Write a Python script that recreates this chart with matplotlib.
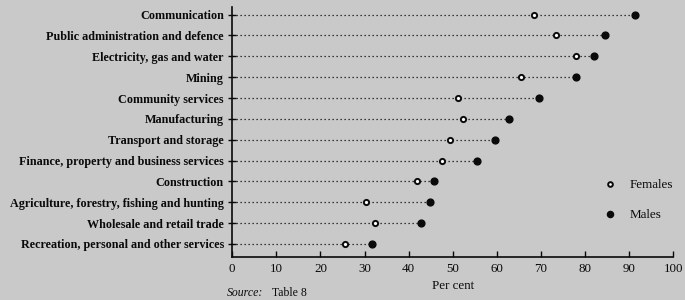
#Dot chart: labour force participation by industry, females vs males
import matplotlib.pyplot as plt

industries = ['Communication', 'Public administration and defence', 'Electricity, gas and water',
              'Mining', 'Community services', 'Manufacturing', 'Transport and storage',
              'Finance, property and business services', 'Construction',
              'Agriculture, forestry, fishing and hunting', 'Wholesale and retail trade',
              'Recreation, personal and other services']
females = [68.3, 73.5, 78.0, 65.5, 51.2, 52.4, 49.4, 47.6, 42.0, 30.4, 32.4, 25.5]
males = [91.3, 84.5, 82.0, 78.0, 69.6, 62.8, 59.6, 55.6, 45.8, 44.9, 42.9, 31.7]
xticks = [0, 10, 20, 30, 40, 50, 60, 70, 80, 90, 100]

bg = '#c9c9c9'
ink = '#0a0a0a'
plt.rcParams['font.family'] = ['Liberation Serif', 'DejaVu Serif']

fig = plt.figure(figsize=(6.85, 3.0), dpi=100, facecolor=bg)
ax = fig.add_axes([0.339, 0.145, 0.644, 0.83], facecolor=bg)

ypos = list(range(len(industries)))
for y, m in zip(ypos, males):
    ax.plot([0, m], [y, y], color=ink, linestyle=(0, (1, 2.2)), linewidth=0.9, zorder=1)

ax.scatter(females, ypos, s=14, facecolor='white', edgecolor=ink, linewidth=1.4, zorder=3, label='Females')
ax.scatter(males, ypos, s=24, color=ink, zorder=3, label='Males')

ax.set_xlim(0, 100)
ax.set_ylim(len(industries) - 0.4, -0.34)
ax.set_yticks(ypos)
ax.set_yticklabels(industries, fontsize=8.7, fontweight='bold', color=ink)
ax.set_xticks(xticks)
ax.set_xticklabels([str(t) for t in xticks], fontsize=9.4, color=ink)
ax.tick_params(axis='y', direction='inout', length=6, width=1, colors=ink, pad=3)
ax.tick_params(axis='x', direction='in', length=4, width=1, colors=ink, pad=5)
for s in ['top', 'right']:
    ax.spines[s].set_visible(False)
for s in ['left', 'bottom']:
    ax.spines[s].set_color(ink)
    ax.spines[s].set_linewidth(1.2)

ax.set_xlabel('Per cent', fontsize=9.4, color=ink, labelpad=3)
leg = ax.legend(loc='upper left', bbox_to_anchor=(0.8, 0.36), frameon=False, fontsize=9.4,
                handletextpad=0.5, labelspacing=1.35, markerscale=0.9)
for t in leg.get_texts():
    t.set_color(ink)

fig.text(0.331, 0.004, 'Source:', fontsize=8.5, style='italic', color=ink, va='bottom')
fig.text(0.397, 0.004, 'Table 8', fontsize=8.5, color=ink, va='bottom')

plt.savefig('out.png', dpi=100, facecolor=bg)
